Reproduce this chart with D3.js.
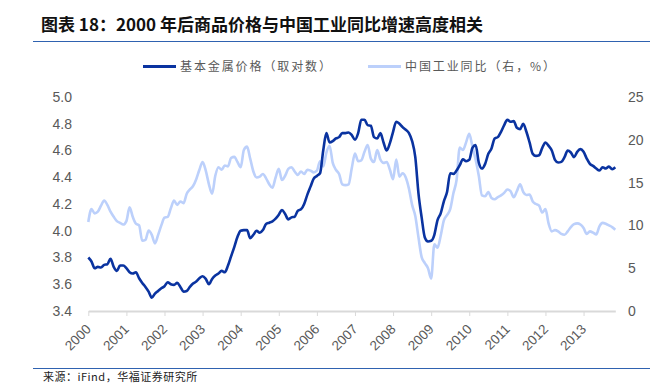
<!DOCTYPE html>
<html><head><meta charset="utf-8">
<script src="https://cdn.jsdelivr.net/npm/d3@7/dist/d3.min.js"></script>
<style>
html,body{margin:0;padding:0;background:#fff;}
svg{display:block;}
</style></head>
<body>
<script>
const years = ["2000","2001","2002","2003","2004","2005","2006","2007","2008","2009","2010","2011","2012","2013"];
const leftTicks = [3.4,3.6,3.8,4.0,4.2,4.4,4.6,4.8,5.0];
const rightTicks = [0,5,10,15,20,25];
const seriesNames = ["基本金属价格（取对数）","中国工业同比（右，%）"];
// monthly, Jan 2000 – Nov 2013
const metalLog = [
3.80,3.77,3.72,3.73,3.725,3.745,3.75,3.79,3.73,3.70,3.74,3.74,
3.72,3.69,3.68,3.69,3.645,3.61,3.58,3.545,3.50,3.53,3.55,3.57,
3.585,3.615,3.60,3.595,3.61,3.58,3.545,3.55,3.58,3.605,3.62,3.645,
3.66,3.64,3.60,3.64,3.665,3.68,3.70,3.69,3.74,3.81,3.88,3.955,
4.00,4.005,4.005,3.945,3.97,4.00,3.985,4.005,4.05,4.06,4.07,4.09,
4.12,4.155,4.125,4.085,4.10,4.105,4.15,4.16,4.20,4.27,4.33,4.39,
4.41,4.43,4.60,4.73,4.66,4.67,4.69,4.70,4.73,4.73,4.735,4.715,
4.68,4.73,4.83,4.83,4.79,4.785,4.70,4.69,4.73,4.66,4.60,4.655,
4.74,4.815,4.80,4.775,4.755,4.73,4.67,4.55,4.28,4.10,3.95,3.92,
3.925,3.97,4.08,4.13,4.22,4.29,4.43,4.425,4.45,4.49,4.535,4.52,
4.53,4.62,4.64,4.51,4.465,4.50,4.575,4.615,4.69,4.70,4.74,4.79,
4.83,4.815,4.82,4.77,4.76,4.80,4.74,4.66,4.575,4.56,4.565,4.62,
4.66,4.635,4.60,4.53,4.51,4.515,4.55,4.60,4.585,4.55,4.59,4.61,
4.59,4.54,4.50,4.485,4.465,4.45,4.475,4.465,4.48,4.46,4.475
];
const industryYoY = [
10.4,11.9,11.4,11.6,12.3,12.9,12.4,11.6,11.0,10.5,10.3,10.1,
10.5,12.1,11.0,10.2,10.0,8.2,8.3,9.4,8.9,7.9,8.9,10.0,
10.9,11.0,12.0,12.9,12.4,12.8,12.6,13.7,14.2,14.6,15.4,16.5,
17.4,16.4,14.8,13.7,15.8,16.8,16.5,17.0,16.9,17.9,18.0,17.4,
16.8,18.8,19.2,17.8,16.3,15.6,15.7,16.0,15.5,14.8,14.4,15.6,
16.6,15.3,15.8,16.6,16.8,16.3,15.9,16.3,16.0,16.5,16.4,16.2,
16.4,17.5,16.9,18.5,19.3,17.3,16.5,16.0,14.8,14.7,14.8,16.7,
18.4,17.5,17.6,18.6,19.4,17.8,17.4,18.8,17.7,17.3,17.4,16.5,
15.4,17.7,15.7,16.1,15.6,14.3,12.4,11.1,8.6,6.3,5.6,5.0,
3.8,7.8,7.4,8.8,10.6,11.2,11.9,13.75,15.3,19.1,18.8,19.7,
20.7,19.2,17.7,15.8,13.5,13.4,13.9,13.2,13.05,13.3,13.5,13.8,
14.2,14.0,13.3,14.0,14.8,13.9,13.55,13.6,12.8,12.5,12.3,11.5,
11.9,10.2,9.3,9.45,9.3,9.0,8.9,9.3,9.8,10.15,10.24,10.1,
9.7,9.0,9.3,9.15,8.95,9.9,10.3,10.2,10.0,9.8,9.5
];

const W = 668, H = 385;
const svg = d3.select("body").append("svg").attr("width", W).attr("height", H);
const darkC = "#0a33a0", lightC = "#bcd0fb", textC = "#595959", ruleC = "#2f62b0";

// title
svg.append("text").attr("x", 41).attr("y", 31)
  .attr("font-family", "'Noto Sans CJK SC', sans-serif").attr("font-weight", "bold")
  .attr("font-size", 17).attr("fill", "#111")
  .text("图表 18：2000 年后商品价格与中国工业同比增速高度相关");
svg.append("line").attr("x1", 33).attr("x2", 650).attr("y1", 41.5).attr("y2", 41.5)
  .attr("stroke", ruleC).attr("stroke-width", 1);

const x = d3.scaleLinear().domain([0, metalLog.length - 1]).range([88.3, 615.3]);
const yL = d3.scaleLinear().domain([3.4, 5.0]).range([311, 97]);
const yR = d3.scaleLinear().domain([0, 25]).range([311, 97]);

// legend
const lg = svg.append("g").attr("font-family", "'Noto Sans CJK SC', sans-serif")
  .attr("font-size", 12).attr("fill", textC).attr("letter-spacing", 1.9);
[[143, darkC, seriesNames[0]], [368, lightC, seriesNames[1]]].forEach(([lx, c, t]) => {
  lg.append("line").attr("x1", lx).attr("x2", lx + 33).attr("y1", 66.5).attr("y2", 66.5)
    .attr("stroke", c).attr("stroke-width", 3);
  lg.append("text").attr("x", lx + 37).attr("y", 71).text(t);
});

// x axis
const yearIdx = years.map((d, i) => i * 12);
const xAxis = d3.axisBottom(x).tickValues(yearIdx).tickSize(5).tickFormat("").tickSizeOuter(0);
const gx = svg.append("g").attr("transform", "translate(0,311)").call(xAxis);
gx.select(".domain").attr("stroke", "#d9d9d9").attr("stroke-width", 2);
gx.selectAll(".tick line").attr("stroke", "#d9d9d9").attr("stroke-width", 1);
svg.append("g").selectAll("text").data(years).join("text")
  .attr("transform", (d, i) => `translate(${x(yearIdx[i]) + 3.5},330) rotate(-45)`)
  .attr("text-anchor", "end")
  .attr("font-family", "'Liberation Sans', Arial, sans-serif").attr("font-size", 13.5)
  .attr("fill", textC).text(d => d);

// y axes (labels only)
const gyl = svg.append("g").attr("transform", "translate(72,0)")
  .call(d3.axisLeft(yL).tickValues(leftTicks).tickFormat(d3.format(".1f")).tickSize(0).tickPadding(0));
const gyr = svg.append("g").attr("transform", "translate(628,0)")
  .call(d3.axisRight(yR).tickValues(rightTicks).tickFormat(d3.format("d")).tickSize(0).tickPadding(0));
[gyl, gyr].forEach(g => {
  g.select(".domain").remove();
  g.selectAll("text").attr("font-family", "'Liberation Sans', Arial, sans-serif")
    .attr("font-size", 14).attr("fill", textC);
});

// lines
const lineR = d3.line().x((d, i) => x(i)).y(d => yR(d)).curve(d3.curveMonotoneX);
const lineL = d3.line().x((d, i) => x(i)).y(d => yL(d)).curve(d3.curveMonotoneX);
svg.append("path").datum(industryYoY).attr("d", lineR).attr("fill", "none")
  .attr("stroke", lightC).attr("stroke-width", 2.6).attr("stroke-linejoin", "round");
svg.append("path").datum(metalLog).attr("d", lineL).attr("fill", "none")
  .attr("stroke", darkC).attr("stroke-width", 2.6).attr("stroke-linejoin", "round");

// footer
svg.append("line").attr("x1", 33).attr("x2", 650).attr("y1", 368.5).attr("y2", 368.5)
  .attr("stroke", ruleC).attr("stroke-width", 1);
svg.append("text").attr("x", 43).attr("y", 381)
  .attr("font-family", "'Noto Sans CJK SC', sans-serif").attr("font-size", 11)
  .attr("fill", "#222").attr("letter-spacing", 0.5).text("来源：iFind，华福证券研究所");
</script>
</body></html>
